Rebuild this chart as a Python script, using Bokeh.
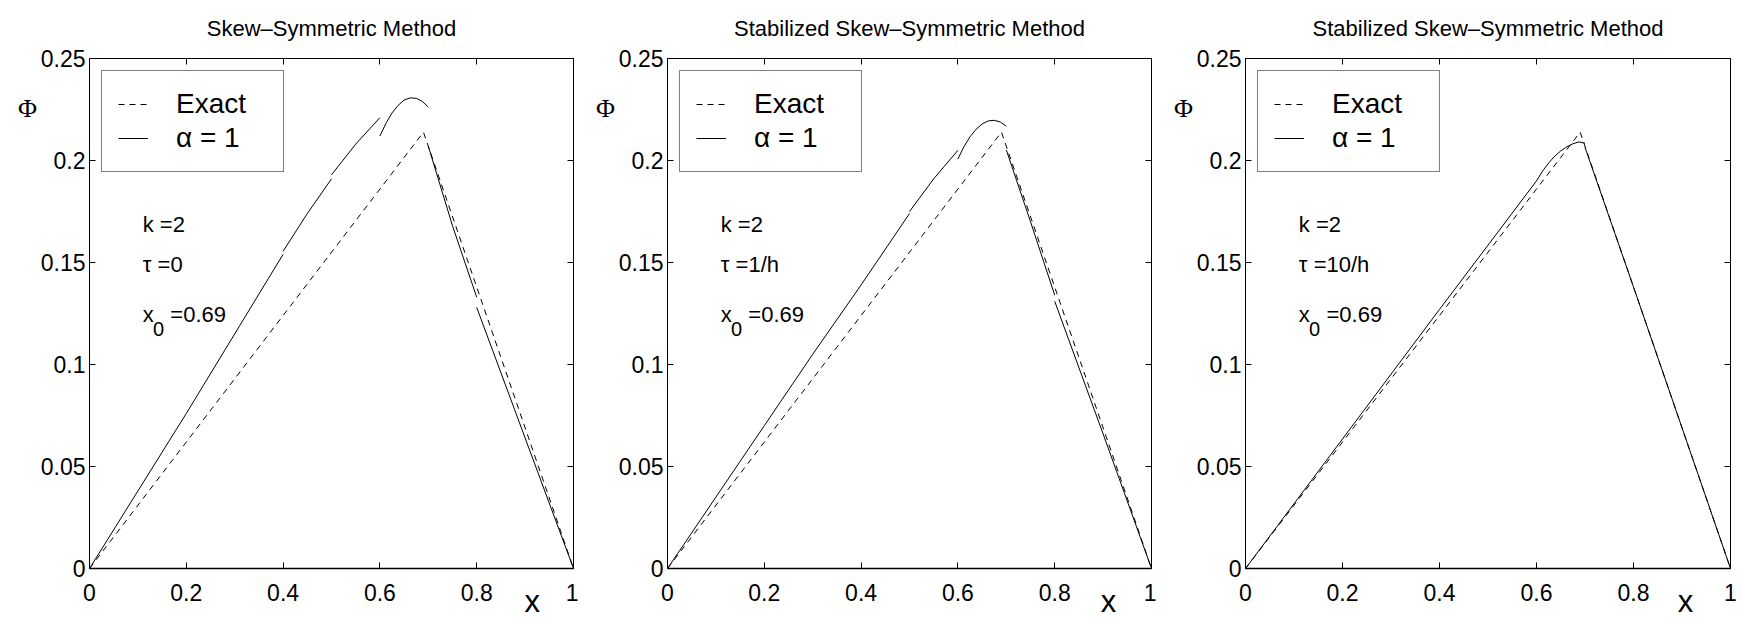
from bokeh.plotting import figure
from bokeh.layouts import row
from bokeh.models import (Range1d, FixedTicker, LinearAxis, Label, Legend, LegendItem,
                          CustomLabelingPolicy)
from bokeh.embed import file_html
from bokeh.resources import INLINE

# ---------------- data ----------------
titles = ["Skew\u2013Symmetric Method",
          "Stabilized Skew\u2013Symmetric Method",
          "Stabilized Skew\u2013Symmetric Method"]
tau_labels = ["\u03c4 =0", "\u03c4 =1/h", "\u03c4 =10/h"]
k_label = "k =2"
x0_value_label = "=0.69"

x_ticks = [0, 0.2, 0.4, 0.6, 0.8, 1]
x_tick_labels = ["0", "0.2", "0.4", "0.6", "0.8", "1"]
y_ticks = [0, 0.05, 0.1, 0.15, 0.2, 0.25]
y_tick_labels = ["0", "0.05", "0.1", "0.15", "0.2", "0.25"]

# exact solution (dashed)
exact_x = [0, 0.69, 1.0]
exact_y = [0, 0.2139, 0]

# numerical solution alpha = 1, one list of element pieces per panel
p1_xs = [[0, 0.1, 0.2, 0.3, 0.4],
         [0.4, 0.45, 0.5],
         [0.5, 0.55, 0.6],
         [0.6, 0.6125, 0.625, 0.6375, 0.65, 0.6625, 0.675, 0.6875, 0.7],
         [0.7, 0.75, 0.8],
         [0.8, 0.9, 1.0]]
p1_ys = [[0, 0.038, 0.076, 0.115, 0.154],
         [0.1555, 0.174, 0.191],
         [0.193, 0.208, 0.221],
         [0.212, 0.2182, 0.2233, 0.2270, 0.2296, 0.2307, 0.2305, 0.2290, 0.2262],
         [0.207, 0.168, 0.133],
         [0.128, 0.064, 0.0]]

p2_xs = [[0, 0.1, 0.2, 0.3, 0.4, 0.5],
         [0.5, 0.55, 0.6],
         [0.6, 0.6125, 0.625, 0.6375, 0.65, 0.6625, 0.675, 0.6875, 0.7],
         [0.7, 0.75, 0.8],
         [0.8, 0.9, 1.0]]
p2_ys = [[0, 0.035, 0.07, 0.105, 0.139, 0.174],
         [0.175, 0.191, 0.205],
         [0.2007, 0.2068, 0.2116, 0.2153, 0.2179, 0.2194, 0.2197, 0.2189, 0.2168],
         [0.2052, 0.170, 0.134],
         [0.131, 0.066, 0.0]]

p3_xs = [[0, 0.2, 0.4, 0.6],
         [0.6, 0.6125, 0.625, 0.6375, 0.65, 0.6625, 0.675, 0.6875, 0.7],
         [0.7, 0.8, 0.9, 1.0]]
p3_ys = [[0, 0.0635, 0.127, 0.190],
         [0.190, 0.1948, 0.1988, 0.2021, 0.2047, 0.2067, 0.2082, 0.2091, 0.2085],
         [0.2064, 0.138, 0.069, 0.0]]

solutions = [(p1_xs, p1_ys), (p2_xs, p2_ys), (p3_xs, p3_ys)]
xlabel_pos = [0.915, 0.911, 0.907]

# ---------------- style ----------------
TEXT_FONT = "Liberation Sans"
widths = [578, 578, 584]
right_borders = [4, 4, 10]


def style_axis(ax, show_labels, standoff):
    ax.axis_line_color = "black"
    ax.axis_line_width = 1
    ax.major_tick_line_color = "black"
    ax.major_tick_in = 6
    ax.major_tick_out = 0
    ax.minor_tick_line_color = None
    ax.major_label_standoff = standoff
    if show_labels:
        ax.major_label_text_font = TEXT_FONT
        ax.major_label_text_font_size = "23px"
        ax.major_label_text_color = "black"
    else:
        ax.major_label_text_font_size = "1px"
        ax.major_label_policy = CustomLabelingPolicy(code="return new Set()")


def text_label(x, y, text, size, font=TEXT_FONT, align="left"):
    return Label(x=x, y=y, text=text, text_align=align,
                 text_baseline="alphabetic", text_font=font,
                 text_font_size=size, text_color="black")


figs = []
for i in range(3):
    p = figure(width=widths[i], height=621,
               x_range=Range1d(0, 1), y_range=Range1d(0, 0.25),
               output_backend="svg", toolbar_location=None,
               min_border_left=89, min_border_right=right_borders[i],
               min_border_top=54, min_border_bottom=53,
               x_axis_location=None, y_axis_location=None)
    p.grid.visible = False
    p.outline_line_color = None
    p.background_fill_color = "white"
    p.border_fill_color = "white"

    p.title.text = titles[i]
    p.title.align = "center"
    p.title.text_font = TEXT_FONT
    p.title.text_font_size = "22px"
    p.title.text_font_style = "normal"
    p.title.text_color = "black"
    p.title.standoff = 27

    xb = LinearAxis(ticker=FixedTicker(ticks=x_ticks))
    xb.major_label_overrides = {t: s for t, s in zip(x_ticks, x_tick_labels)}
    style_axis(xb, True, 15)
    xb.axis_line_width = 1.6
    p.add_layout(xb, "below")

    yl = LinearAxis(ticker=FixedTicker(ticks=y_ticks))
    yl.major_label_overrides = {t: s for t, s in zip(y_ticks, y_tick_labels)}
    style_axis(yl, True, 4)
    p.add_layout(yl, "left")

    xt = LinearAxis(ticker=FixedTicker(ticks=x_ticks))
    style_axis(xt, False, 0)
    p.add_layout(xt, "above")

    yr = LinearAxis(ticker=FixedTicker(ticks=y_ticks))
    style_axis(yr, False, 0)
    p.add_layout(yr, "right")

    r_exact = p.line(exact_x, exact_y, line_color="black", line_width=1,
                     line_dash="6 5")
    sx, sy = solutions[i]
    r_sol = p.multi_line(xs=sx, ys=sy, line_color="black", line_width=1)

    legend = Legend(items=[LegendItem(label="Exact", renderers=[r_exact]),
                           LegendItem(label="\u03b1 = 1", renderers=[r_sol])],
                    location="top_left")
    legend.margin = 12
    legend.padding = 16
    legend.spacing = 0
    legend.glyph_width = 30
    legend.glyph_height = 34
    legend.label_height = 34
    legend.label_width = 91
    legend.label_standoff = 28
    legend.label_text_font = TEXT_FONT
    legend.label_text_font_size = "28px"
    legend.label_text_color = "black"
    legend.border_line_color = "black"
    legend.border_line_width = 1
    legend.background_fill_color = "white"
    legend.background_fill_alpha = 1
    p.add_layout(legend, "center")

    # y label (Phi) and x label: data units, kept in a side panel so they are not clipped
    p.add_layout(text_label(-0.128, 0.2253, "\u03a6", "26px",
                            font="Liberation Serif", align="center"), "left")
    p.add_layout(text_label(xlabel_pos[i], -0.0164, "x", "31px",
                            align="center"), "left")
    # annotations
    p.add_layout(text_label(0.11, 0.1684, k_label, "22px"))
    p.add_layout(text_label(0.11, 0.1489, tau_labels[i], "22px"))
    p.add_layout(text_label(0.11, 0.1245, "x", "22px"))
    p.add_layout(text_label(0.131, 0.1172, "0", "20px"))
    p.add_layout(text_label(0.167, 0.1245, x0_value_label, "22px"))
    figs.append(p)

layout = row(*figs)
open("out.html", "w").write(file_html(layout, INLINE))
